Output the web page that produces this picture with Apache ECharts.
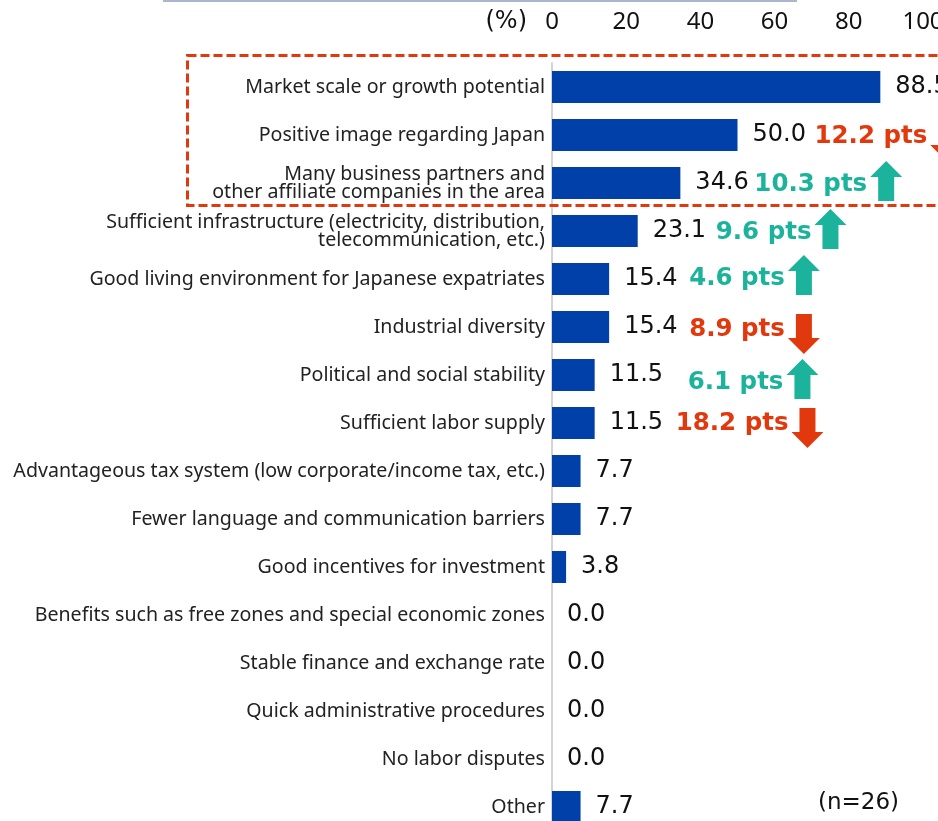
<!DOCTYPE html>
<html><head><meta charset="utf-8">
<script src="https://cdn.jsdelivr.net/npm/echarts@6/dist/echarts.min.js"></script>
<style>html,body{margin:0;padding:0;background:#fff}#c{width:938px;height:821px}</style>
</head><body><div id="c"></div>
<script>
const categories = [
  'Market scale or growth potential',
  'Positive image regarding Japan',
  'Many business partners and\nother affiliate companies in the area',
  'Sufficient infrastructure (electricity, distribution,\ntelecommunication, etc.)',
  'Good living environment for Japanese expatriates',
  'Industrial diversity',
  'Political and social stability',
  'Sufficient labor supply',
  'Advantageous tax system (low corporate/income tax, etc.)',
  'Fewer language and communication barriers',
  'Good incentives for investment',
  'Benefits such as free zones and special economic zones',
  'Stable finance and exchange rate',
  'Quick administrative procedures',
  'No labor disputes',
  'Other'
];
const values = [88.5, 50.0, 34.6, 23.1, 15.4, 15.4, 11.5, 11.5, 7.7, 7.7, 3.8, 0.0, 0.0, 0.0, 0.0, 7.7];
const xTicks = [0, 20, 40, 60, 80, 100];
const changeRows = [1, 2, 3, 4, 5, 6, 7];
const changeValues = [12.2, 10.3, 9.6, 4.6, 8.9, 6.1, 18.2];
const changeDirs = ['down', 'up', 'up', 'up', 'down', 'up', 'down'];
const sampleNote = '(n=26)';

// layout (pixel offsets only)
const annotOffsetX = [77, 74, 78, 80, 80, 93, 81];
const annotDy = [2, 2, 2, 0, 3, 8, 1];

const TEAL = '#1bb39b', RED = '#e2380e', BLUE = '#0040a8';
const measureCtx = document.createElement('canvas').getContext('2d');
const annFont = 'bold 24.5px "DejaVu Sans"';

const chart = echarts.init(document.getElementById('c'), null, {renderer: 'canvas'});
const customData = changeRows.map((r, k) => [values[r], r, k]);

chart.setOption({
  animation: false,
  grid: {left: 552, top: 63, width: 371, height: 768, containLabel: false, outerBoundsMode: 'none'},
  xAxis: {
    type: 'value', position: 'top', min: xTicks[0], max: xTicks[xTicks.length - 1], interval: 20,
    axisLine: {show: false}, axisTick: {show: false}, splitLine: {show: false},
    axisLabel: {margin: 29, fontSize: 24, color: '#111', fontFamily: '"Noto Sans",sans-serif'}
  },
  yAxis: {
    type: 'category', inverse: true, data: categories,
    axisLine: {show: true, lineStyle: {color: '#d4d4d4', width: 2}},
    axisTick: {show: false},
    axisLabel: {margin: 7, fontSize: 19.6, lineHeight: 18, color: '#222', fontFamily: '"Noto Sans",sans-serif', align: 'right'}
  },
  series: [
    {
      type: 'bar', data: values, barWidth: 32,
      itemStyle: {color: BLUE},
      label: {show: true, position: 'right', distance: 15, fontSize: 24, color: '#111',
        fontFamily: '"DejaVu Sans",sans-serif', formatter: p => p.value.toFixed(1)}
    },
    {
      type: 'custom', clip: false, data: customData, z: 10,
      renderItem: function (params, api) {
        const k = api.value(2);
        const base = api.coord([api.value(0), api.value(1)]);
        const tx = base[0] + annotOffsetX[k];
        const ty = base[1] + annotDy[k];
        const txt = changeValues[k].toFixed(1) + ' pts';
        measureCtx.font = annFont;
        const w = measureCtx.measureText(txt).width;
        const up = changeDirs[k] === 'up';
        const col = up ? TEAL : RED;
        const ax = tx + w + 3;
        const acy = ty + (up ? -4 : 4);
        const H = 40, HW = 32, HH = 16, SW = 16;
        const top = acy - H / 2, bot = acy + H / 2;
        let pts;
        if (up) {
          pts = [[ax + HW / 2, top], [ax + HW, top + HH], [ax + HW / 2 + SW / 2, top + HH], [ax + HW / 2 + SW / 2, bot],
                 [ax + HW / 2 - SW / 2, bot], [ax + HW / 2 - SW / 2, top + HH], [ax, top + HH]];
        } else {
          pts = [[ax + HW / 2, bot], [ax + HW, bot - HH], [ax + HW / 2 + SW / 2, bot - HH], [ax + HW / 2 + SW / 2, top],
                 [ax + HW / 2 - SW / 2, top], [ax + HW / 2 - SW / 2, bot - HH], [ax, bot - HH]];
        }
        return {
          type: 'group',
          children: [
            {type: 'text', style: {text: txt, x: tx, y: ty, fill: col, font: annFont, verticalAlign: 'middle', align: 'left'}},
            {type: 'polygon', shape: {points: pts}, style: {fill: col}}
          ]
        };
      }
    }
  ],
  graphic: [
    {type: 'rect', shape: {x: 163, y: 0, width: 634, height: 2}, style: {fill: '#a9b6cd'}},
    {type: 'text', style: {text: '(%)', x: 527, y: 22, fill: '#111', font: '24px "DejaVu Sans",sans-serif', align: 'right', verticalAlign: 'middle'}},
    {type: 'rect', shape: {x: 187.5, y: 55.5, width: 780, height: 150}, style: {fill: 'none', stroke: RED, lineWidth: 3, lineDash: [9, 4]}, z: 20},
    {type: 'text', style: {text: sampleNote, x: 818, y: 803, fill: '#111', font: '23px "DejaVu Sans",sans-serif', align: 'left', verticalAlign: 'middle'}}
  ]
});
</script></body></html>
